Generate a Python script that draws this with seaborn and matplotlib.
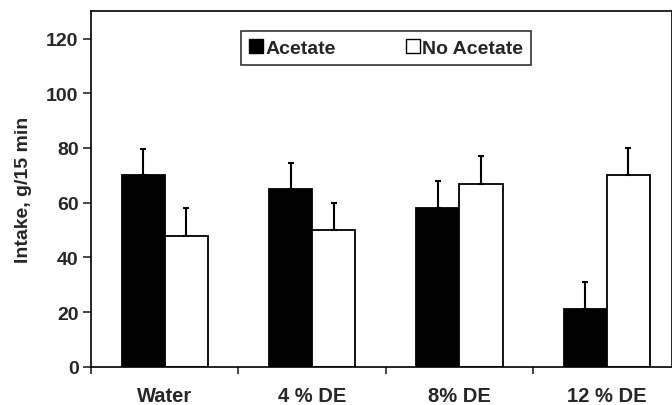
import matplotlib
matplotlib.use("Agg")
import matplotlib.pyplot as plt
import seaborn as sns
import pandas as pd
import numpy as np
from matplotlib.ticker import FixedLocator
from matplotlib.patches import Patch

categories = ["Water", "4 % DE", "8% DE", "12 % DE"]
acetate = [70, 65, 58, 21]
no_acetate = [48, 50, 67, 70]
acetate_err = [9.7, 9.6, 10, 10]
no_acetate_err = [10, 10, 10, 10]
series = ["Acetate", "No Acetate"]

df = pd.DataFrame({
    "cat": categories * 2,
    "val": acetate + no_acetate,
    "grp": [series[0]] * 4 + [series[1]] * 4,
})

sns.set_style("white")
plt.rcParams["font.family"] = ["Liberation Sans", "DejaVu Sans"]
plt.rcParams["font.weight"] = "bold"

fig = plt.figure(figsize=(6.72, 4.06), dpi=100)
ax = fig.add_axes([0.1355, 0.094, 0.864, 0.876])

sns.barplot(data=df, x="cat", y="val", hue="grp", order=categories,
            hue_order=series, palette=["black", "white"], width=0.585,
            edgecolor="black", linewidth=1.3, saturation=1, ax=ax, legend=False)

containers = ax.containers
for cont, errs in zip(containers, [acetate_err, no_acetate_err]):
    xs = [p.get_x() + p.get_width() / 2 for p in cont.patches]
    hs = [p.get_height() for p in cont.patches]
    ax.errorbar(xs, hs, yerr=[np.zeros(len(errs)), errs], fmt="none",
                ecolor="black", elinewidth=1.5, capsize=2.5, capthick=1.5)

ax.set_ylim(0, 130)
ax.set_xlim(-0.5, 3.44)
ax.yaxis.set_major_locator(FixedLocator([0, 20, 40, 60, 80, 100, 120]))
ax.set_xticks(range(len(categories)))
ax.set_xticklabels(categories, fontsize=14.5, fontweight="bold")
ax.xaxis.set_minor_locator(FixedLocator([-0.5, 0.5, 1.5, 2.5, 3.5]))
ax.tick_params(axis="x", which="major", length=0, pad=14)
ax.tick_params(axis="x", which="minor", length=5, width=1.2, direction="out", bottom=True)
ax.tick_params(axis="y", length=6, width=1.2, direction="out", left=True, labelsize=14, pad=3)
for lab in ax.get_yticklabels():
    lab.set_fontweight("bold")
ax.set_xlabel("")
ax.set_ylabel("Intake, g/15 min", fontsize=14, fontweight="bold", labelpad=10)

for s in ax.spines.values():
    s.set_visible(True)
    s.set_color("black")
    s.set_linewidth(1.2)

handles = [Patch(facecolor="black", edgecolor="black", label=series[0]),
           Patch(facecolor="white", edgecolor="black", label=series[1])]
leg = ax.legend(handles=handles, loc="upper left",
                bbox_to_anchor=(0.258, 0.5, 0.4995, 0.444), mode="expand",
                ncol=2, frameon=True, fancybox=False,
                prop={"weight": "bold", "size": 14}, handlelength=0.75,
                handleheight=0.75, handletextpad=0.1, columnspacing=2.4,
                borderpad=0.4, borderaxespad=0)
leg.get_frame().set_edgecolor("black")
leg.get_frame().set_linewidth(1.2)

fig.savefig("out.png", dpi=100)
